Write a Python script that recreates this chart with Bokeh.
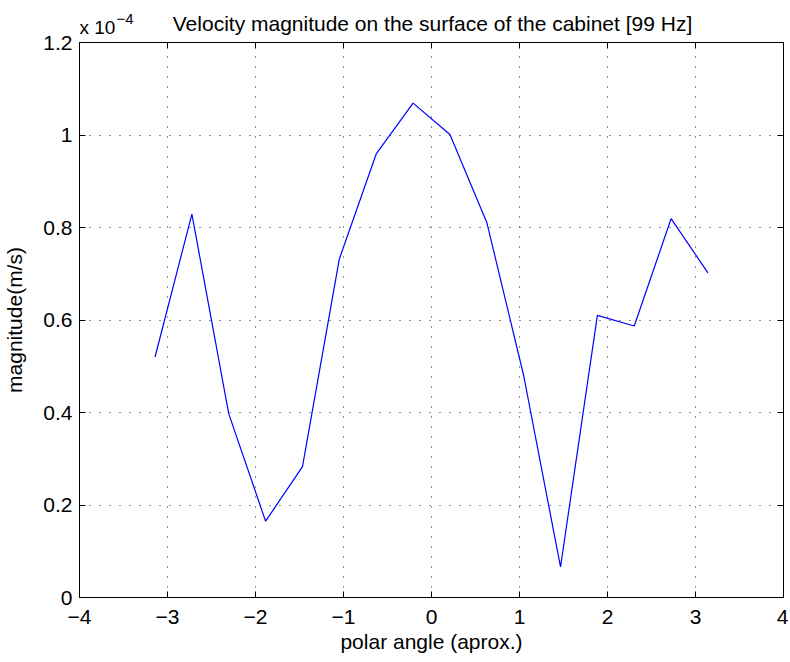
from bokeh.plotting import figure
from bokeh.models import Range1d, FixedTicker, LinearAxis, Label
from bokeh.layouts import column
from bokeh.embed import file_html
from bokeh.resources import INLINE

# polar angle (rad, approx.)
angle = [-3.1416, -2.7227, -2.3038, -1.8850, -1.4661, -1.0472, -0.6283, -0.2094,
         0.2094, 0.6283, 1.0472, 1.4661, 1.8850, 2.3038, 2.7227, 3.1416]
# velocity magnitude (m/s), in units of 1e-4
magnitude = [0.520, 0.829, 0.397, 0.165, 0.283, 0.732, 0.959, 1.069,
             1.001, 0.811, 0.480, 0.066, 0.610, 0.587, 0.819, 0.702]

x_ticks = [-4, -3, -2, -1, 0, 1, 2, 3, 4]
x_tick_labels = ["\u22124", "\u22123", "\u22122", "\u22121", "0", "1", "2", "3", "4"]
y_ticks = [0, 0.2, 0.4, 0.6, 0.8, 1.0, 1.2]
y_tick_labels = ["0", "0.2", "0.4", "0.6", "0.8", "1", "1.2"]

title_text = "Velocity magnitude on the surface of the cabinet [99 Hz]"
x_label = "polar angle (aprox.)"
y_label = "magnitude(m/s)"
scale_text = "x 10"
scale_exp = "\u22124"

FONT = "Liberation Sans"
FS = "21px"
W = 788
HEAD_H = 35
MAIN_H = 625

# ---- header strip (title and axis multiplier); frame is aligned with the plot frame ----
head = figure(width=W, height=HEAD_H, output_backend="svg", toolbar_location=None,
              x_range=Range1d(0, 1), y_range=Range1d(0, 1),
              min_border_left=0, min_border_right=0, min_border_top=0, min_border_bottom=0,
              x_axis_location=None, y_axis_location=None)
head.grid.visible = False
head.outline_line_color = None
head.background_fill_color = "white"
head.border_fill_color = "white"
head.add_layout(Label(x=353, y=12.5, x_units="screen", y_units="screen", text=title_text,
                      text_align="center", text_baseline="alphabetic", text_font=FONT,
                      text_font_size=FS, text_color="black"))
head.add_layout(Label(x=0, y=8.5, x_units="screen", y_units="screen", text=scale_text,
                      text_align="left", text_baseline="alphabetic", text_font=FONT,
                      text_font_size="19px", text_color="black"))
head.add_layout(Label(x=37, y=17, x_units="screen", y_units="screen", text=scale_exp,
                      text_align="left", text_baseline="alphabetic", text_font=FONT,
                      text_font_size="15px", text_color="black"))

# ---- main plot ----
p = figure(width=W, height=MAIN_H, output_backend="svg", toolbar_location=None,
           x_range=Range1d(-4, 4), y_range=Range1d(0, 1.2),
           min_border_left=79, min_border_right=5, min_border_top=7, min_border_bottom=63,
           x_axis_location=None, y_axis_location=None)
p.background_fill_color = "white"
p.border_fill_color = "white"
p.outline_line_color = "black"
p.outline_line_width = 1

p.line(angle, magnitude, line_color="#0000ff", line_width=1.2)

def style_axis(ax, ticks, labels=None, show=True):
    ax.ticker = FixedTicker(ticks=ticks)
    ax.axis_line_color = "black"
    ax.axis_line_width = 1
    ax.major_tick_line_color = "black"
    ax.major_tick_in = 6
    ax.major_tick_out = 0
    ax.minor_tick_line_color = None
    if show:
        ax.major_label_overrides = {t: l for t, l in zip(ticks, labels)}
        ax.major_label_text_font = FONT
        ax.major_label_text_font_size = FS
        ax.major_label_text_color = "black"
        ax.axis_label_text_font = FONT
        ax.axis_label_text_font_size = FS
        ax.axis_label_text_font_style = "normal"
        ax.axis_label_text_color = "black"
    else:
        ax.major_label_text_font_size = "0px"
        ax.major_label_standoff = 0

xb = LinearAxis(axis_label=x_label)
style_axis(xb, x_ticks, x_tick_labels)
xb.major_label_standoff = 12
xb.axis_label_standoff = 3
p.add_layout(xb, "below")

yl = LinearAxis(axis_label=y_label)
style_axis(yl, y_ticks, y_tick_labels)
yl.major_label_standoff = 7
yl.axis_label_standoff = 14
p.add_layout(yl, "left")

yr = LinearAxis()
style_axis(yr, y_ticks, show=False)
p.add_layout(yr, "right")

xt = LinearAxis()
style_axis(xt, x_ticks, show=False)
p.add_layout(xt, "above")

p.xgrid.ticker = FixedTicker(ticks=x_ticks)
p.ygrid.ticker = FixedTicker(ticks=y_ticks)
for g in (p.xgrid, p.ygrid):
    g.grid_line_color = "#222222"
    g.grid_line_dash = "1 9"
    g.grid_line_width = 1

layout = column(head, p, spacing=0)
open("out.html", "w").write(file_html(layout, INLINE))
